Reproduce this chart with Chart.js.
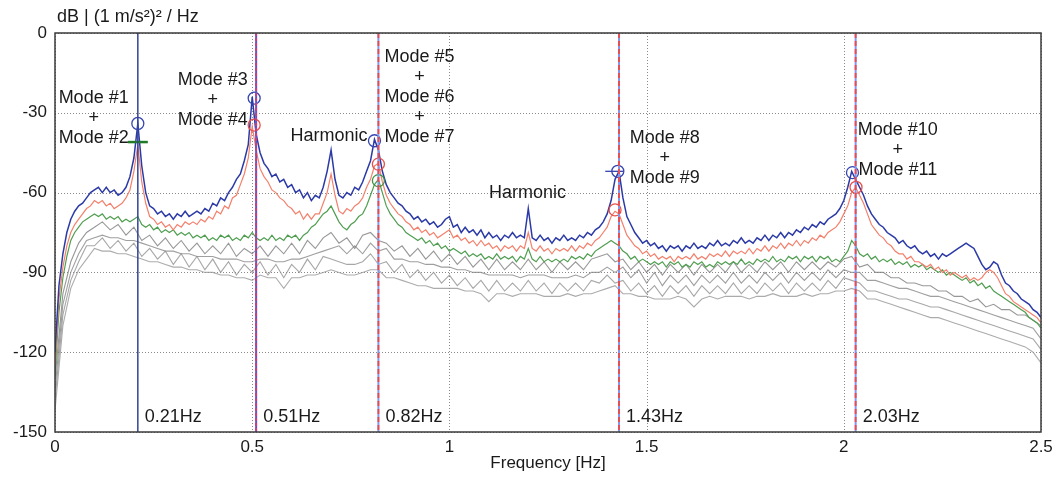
<!DOCTYPE html>
<html lang="en">
<head>
<meta charset="UTF-8">
<title>Acceleration PSD</title>
<script src="https://cdn.jsdelivr.net/npm/chart.js"></script>
<style>
  html, body { margin: 0; padding: 0; background: #fff; }
</style>
</head>
<body>
<canvas id="psdChart" width="1061" height="477"></canvas>
<script>
// frequency bins: 0.01 Hz for the three main records, 0.02 Hz for the background ones
const freq = [];
for (let i = 0; i <= 250; i++) freq.push(i / 100);
const freqCoarse = [];
for (let i = 0; i <= 125; i++) freqCoarse.push(i / 50);

// spectra in dB re (1 m/s²)²/Hz
const blueDb = [
  -120,-95,-83,-75,-70,-67,-65,-64,-62,-60,
  -59,-58,-60,-58,-60,-59,-61,-60,-58,-54,
  -47,-34,-50,-60,-65,-66,-68,-67,-69,-68,
  -70,-68,-69,-67,-69,-68,-67,-68,-66,-67,
  -64,-65,-62,-63,-60,-58,-55,-53,-48,-42,
  -24,-38,-45,-49,-51,-54,-53,-56,-55,-58,
  -57,-60,-59,-62,-60,-63,-61,-62,-58,-52,
  -44,-55,-61,-62,-60,-61,-58,-59,-56,-52,
  -48,-40,-44,-52,-57,-60,-62,-64,-65,-67,
  -68,-70,-69,-71,-70,-72,-71,-73,-72,-70,
  -69,-73,-72,-75,-73,-75,-74,-76,-74,-77,
  -75,-77,-76,-78,-76,-77,-75,-77,-76,-77,
  -66,-77,-78,-76,-78,-77,-79,-77,-78,-76,
  -78,-77,-78,-76,-77,-75,-76,-74,-73,-71,
  -68,-63,-55,-52,-62,-69,-72,-75,-77,-79,
  -78,-80,-79,-81,-80,-82,-80,-81,-80,-82,
  -80,-81,-79,-81,-80,-81,-79,-80,-78,-80,
  -79,-80,-78,-79,-77,-79,-78,-79,-77,-78,
  -76,-78,-76,-77,-75,-77,-75,-76,-74,-75,
  -73,-74,-72,-73,-71,-72,-70,-69,-68,-66,
  -63,-58,-52,-55,-58,-61,-65,-68,-70,-72,
  -73,-75,-76,-77,-79,-78,-80,-81,-80,-82,
  -83,-82,-84,-83,-85,-83,-84,-83,-82,-81,
  -80,-79,-80,-81,-84,-87,-89,-88,-86,-87,
  -91,-94,-95,-97,-98,-100,-101,-102,-104,-105,
  -107
];
const redDb = [
  -125,-100,-88,-80,-75,-72,-70,-68,-66,-65,
  -63,-64,-63,-65,-64,-66,-65,-64,-62,-59,
  -52,-42,-56,-64,-69,-70,-72,-71,-73,-72,
  -74,-72,-73,-71,-72,-71,-72,-70,-71,-69,
  -70,-67,-68,-65,-66,-62,-61,-57,-53,-47,
  -35,-44,-51,-54,-56,-59,-60,-62,-63,-65,
  -66,-68,-67,-70,-68,-70,-68,-68,-64,-60,
  -53,-61,-67,-68,-66,-67,-65,-64,-62,-58,
  -55,-50,-49,-56,-61,-64,-66,-68,-69,-71,
  -72,-74,-73,-75,-74,-76,-75,-77,-76,-75,
  -74,-77,-76,-78,-77,-79,-78,-80,-78,-80,
  -79,-81,-80,-82,-80,-81,-80,-82,-80,-81,
  -75,-81,-82,-80,-82,-81,-83,-81,-82,-81,
  -82,-80,-82,-80,-81,-79,-80,-78,-77,-75,
  -73,-69,-67,-68,-72,-76,-78,-80,-81,-83,
  -82,-84,-83,-85,-84,-85,-84,-86,-84,-85,
  -84,-85,-83,-85,-84,-85,-83,-84,-83,-84,
  -82,-84,-82,-83,-82,-83,-81,-83,-81,-82,
  -80,-82,-80,-81,-79,-81,-79,-80,-78,-80,
  -78,-79,-77,-78,-76,-77,-75,-74,-73,-71,
  -68,-65,-60,-58,-61,-64,-68,-72,-74,-76,
  -77,-79,-80,-82,-83,-83,-85,-84,-86,-86,
  -87,-88,-87,-89,-88,-90,-89,-91,-90,-91,
  -92,-91,-93,-92,-93,-92,-90,-89,-90,-92,
  -95,-98,-99,-101,-102,-103,-104,-105,-106,-107,
  -109
];
const greenDb = [
  -128,-105,-92,-84,-78,-75,-73,-71,-70,-69,
  -68,-69,-68,-70,-69,-70,-69,-71,-70,-71,
  -70,-69,-72,-73,-72,-74,-73,-75,-74,-75,
  -74,-76,-75,-76,-75,-77,-76,-77,-76,-78,
  -77,-78,-76,-77,-76,-78,-77,-78,-76,-77,
  -75,-77,-78,-77,-78,-76,-78,-77,-78,-76,
  -77,-76,-78,-76,-75,-73,-72,-70,-68,-67,
  -65,-68,-71,-73,-74,-72,-71,-69,-68,-65,
  -61,-57,-55,-60,-65,-68,-70,-72,-73,-75,
  -76,-77,-78,-77,-79,-78,-80,-79,-81,-80,
  -82,-81,-82,-83,-82,-84,-83,-84,-83,-85,
  -84,-85,-83,-85,-84,-85,-84,-86,-84,-85,
  -81,-85,-86,-84,-86,-85,-86,-85,-86,-85,
  -86,-84,-85,-84,-85,-83,-84,-82,-81,-80,
  -79,-78,-79,-80,-82,-83,-85,-84,-86,-85,
  -86,-87,-86,-87,-86,-88,-86,-87,-86,-88,
  -87,-88,-86,-87,-86,-88,-87,-88,-86,-87,
  -86,-87,-86,-87,-85,-87,-86,-87,-85,-86,
  -85,-86,-84,-86,-85,-86,-84,-85,-84,-86,
  -84,-85,-84,-86,-84,-85,-84,-86,-85,-86,
  -84,-82,-78,-80,-83,-84,-83,-85,-84,-86,
  -85,-86,-85,-87,-86,-87,-86,-88,-87,-88,
  -87,-89,-88,-89,-90,-89,-91,-90,-91,-92,
  -93,-92,-94,-93,-95,-94,-96,-95,-97,-98,
  -99,-100,-101,-102,-103,-104,-105,-107,-108,-109,
  -111
];
const gray1Db = [
  -130,-98,-86,-79,-75,-73,-71,-74,-72,-76,
  -73,-78,-76,-80,-77,-81,-78,-82,-79,-83,
  -80,-83,-79,-84,-81,-83,-80,-84,-80,-83,
  -79,-83,-78,-81,-77,-75,-79,-77,-81,-76,
  -75,-78,-79,-82,-80,-84,-81,-85,-82,-86,
  -83,-87,-84,-88,-85,-89,-85,-89,-86,-89,
  -85,-89,-86,-90,-86,-89,-86,-89,-85,-84,
  -83,-86,-85,-89,-86,-90,-87,-91,-87,-90,
  -87,-91,-87,-90,-87,-90,-86,-90,-87,-90,
  -86,-89,-86,-90,-86,-89,-86,-89,-86,-88,
  -85,-84,-88,-87,-90,-90,-92,-92,-94,-94,
  -95,-95,-97,-97,-99,-99,-101,-100,-103,-102,
  -104,-104,-106,-106,-108,-110
];
const gray2Db = [
  -134,-102,-90,-83,-78,-77,-76,-77,-77,-78,
  -78,-79,-80,-81,-82,-82,-83,-83,-84,-84,
  -84,-85,-85,-85,-86,-86,-85,-85,-86,-86,
  -85,-85,-84,-83,-82,-81,-80,-83,-80,-83,
  -79,-82,-81,-85,-85,-86,-86,-87,-87,-88,
  -88,-89,-89,-90,-90,-91,-91,-91,-91,-92,
  -91,-91,-91,-92,-92,-92,-91,-92,-90,-90,
  -88,-90,-88,-92,-89,-94,-90,-95,-91,-94,
  -91,-95,-91,-94,-91,-94,-90,-94,-91,-94,
  -90,-93,-90,-94,-90,-93,-90,-93,-89,-92,
  -89,-90,-90,-93,-93,-94,-95,-96,-96,-97,
  -98,-99,-99,-100,-101,-102,-103,-104,-105,-106,
  -107,-108,-109,-110,-111,-115
];
const gray3Db = [
  -138,-106,-93,-86,-80,-80,-77,-81,-78,-82,
  -79,-84,-81,-85,-82,-87,-83,-88,-84,-89,
  -85,-90,-86,-91,-87,-90,-86,-91,-87,-92,
  -87,-90,-85,-89,-84,-85,-86,-87,-87,-86,
  -83,-87,-86,-90,-87,-92,-89,-93,-90,-94,
  -91,-95,-92,-96,-93,-97,-93,-97,-94,-97,
  -93,-97,-94,-98,-94,-97,-94,-97,-93,-94,
  -91,-94,-93,-97,-94,-98,-95,-99,-95,-98,
  -95,-99,-95,-98,-95,-98,-94,-98,-95,-98,
  -94,-97,-94,-98,-94,-97,-94,-97,-93,-96,
  -92,-93,-94,-97,-97,-98,-99,-100,-100,-101,
  -102,-103,-103,-104,-105,-106,-107,-108,-109,-110,
  -111,-112,-113,-114,-115,-119
];
const gray4Db = [
  -142,-110,-96,-89,-85,-81,-82,-82,-83,-83,
  -84,-85,-86,-86,-87,-88,-88,-89,-89,-90,
  -90,-91,-91,-92,-92,-93,-91,-92,-92,-96,
  -92,-92,-91,-91,-90,-89,-90,-91,-91,-90,
  -89,-89,-92,-92,-93,-94,-95,-95,-96,-96,
  -96,-96,-97,-97,-98,-101,-98,-98,-99,-98,
  -98,-98,-99,-99,-99,-98,-99,-98,-98,-97,
  -96,-95,-98,-98,-99,-99,-100,-100,-100,-99,
  -100,-103,-100,-99,-100,-99,-99,-99,-100,-99,
  -99,-98,-99,-99,-99,-98,-99,-98,-98,-97,
  -97,-96,-97,-100,-100,-101,-102,-103,-104,-105,
  -106,-107,-107,-108,-109,-110,-111,-112,-113,-114,
  -115,-116,-117,-118,-120,-124
];

// identified modes
const modeFreqs = [0.21, 0.51, 0.82, 1.43, 2.03];
const modeLabels = ['0.21Hz', '0.51Hz', '0.82Hz', '1.43Hz', '2.03Hz'];

// picked peaks
const bluePeakF = [0.21, 0.505, 0.81, 1.427, 2.022];
const bluePeakDb = [-34, -24.5, -40.5, -52, -52.5];
const redPeakF = [0.505, 0.82, 1.42, 2.031];
const redPeakDb = [-34.6, -49.3, -66.5, -58];
const greenPeakF = [0.82];
const greenPeakDb = [-55.5];
const greenTickF = [0.21];
const greenTickDb = [-41];
const blueTickF = [1.418];
const blueTickDb = [-52];

const notes = [
  { f: 0.098, db: -24.4, lines: ['Mode #1', '+', 'Mode #2'] },
  { f: 0.400, db: -17.7, lines: ['Mode #3', '+', 'Mode #4'] },
  { f: 0.695, db: -38.7, lines: ['Harmonic'] },
  { f: 0.924, db: -9.1, lines: ['Mode #5', '+', 'Mode #6', '+', 'Mode #7'] },
  { f: 1.198, db: -60.2, lines: ['Harmonic'] },
  { f: 1.546, db: -39.6, lines: ['Mode #8', '+', 'Mode #9'] },
  { f: 2.137, db: -36.5, lines: ['Mode #10', '+', 'Mode #11'] }
];

const FONT = '"Liberation Sans", Arial, sans-serif';

const toPoints = (fs, vals) => vals.map((v, i) => ({ x: fs[i], y: v }));

function curve(fs, vals, color, width) {
  return {
    data: toPoints(fs, vals), borderColor: color, borderWidth: width,
    pointRadius: 0, fill: false, tension: 0
  };
}

function peaks(fs, vals, color, style, radius, width) {
  return {
    data: toPoints(fs, vals), showLine: false, pointStyle: style,
    pointRadius: radius, pointBorderColor: color, pointBackgroundColor: 'rgba(0,0,0,0)',
    pointBorderWidth: width, borderColor: color
  };
}

const overlay = {
  id: 'overlay',
  beforeDatasetsDraw(chart) {
    const { ctx, chartArea: a, scales: { x, y } } = chart;
    ctx.save();
    ctx.strokeStyle = '#8a8a8a';
    ctx.lineWidth = 1;
    ctx.setLineDash([1, 2]);
    x.ticks.forEach(t => {
      const px = Math.round(x.getPixelForValue(t.value)) + 0.5;
      ctx.beginPath(); ctx.moveTo(px, a.top); ctx.lineTo(px, a.bottom); ctx.stroke();
    });
    y.ticks.forEach(t => {
      const py = Math.round(y.getPixelForValue(t.value)) + 0.5;
      ctx.beginPath(); ctx.moveTo(a.left, py); ctx.lineTo(a.right, py); ctx.stroke();
    });
    ctx.restore();
  },
  afterDatasetsDraw(chart) {
    const { ctx, chartArea: a, scales: { x, y } } = chart;
    ctx.save();
    modeFreqs.forEach((f, i) => {
      const px = x.getPixelForValue(f);
      ctx.setLineDash([]);
      ctx.lineWidth = i === 0 ? 1.5 : 2;
      ctx.strokeStyle = i === 0 ? '#33449a' : (i === 1 ? '#6a50c0' : '#8595e8');
      ctx.beginPath(); ctx.moveTo(px, a.top); ctx.lineTo(px, a.bottom); ctx.stroke();
      if (i > 0) {
        ctx.strokeStyle = i === 1 ? '#c8407a' : '#f04848';
        ctx.lineWidth = 1.8;
        ctx.setLineDash(i === 1 ? [3, 2] : [5, 3]);
        ctx.beginPath(); ctx.moveTo(px, a.top); ctx.lineTo(px, a.bottom); ctx.stroke();
      }
      ctx.setLineDash([]);
      ctx.fillStyle = '#1a1a1a';
      ctx.font = '18px ' + FONT;
      ctx.textAlign = 'left';
      ctx.textBaseline = 'middle';
      ctx.fillText(modeLabels[i], px + 7, y.getPixelForValue(-144.5));
    });
    ctx.restore();
  },
  afterDraw(chart) {
    const { ctx, chartArea: a, scales: { x, y } } = chart;
    ctx.save();
    ctx.strokeStyle = '#3a3a3a';
    ctx.lineWidth = 1.5;
    ctx.strokeRect(a.left, a.top, a.right - a.left, a.bottom - a.top);

    ctx.fillStyle = '#1a1a1a';
    ctx.font = '18px ' + FONT;
    ctx.textBaseline = 'middle';
    ctx.textAlign = 'left';
    ctx.fillText('dB | (1 m/s²)² / Hz', 57, 17);

    ctx.textAlign = 'center';
    notes.forEach(n => {
      const px = x.getPixelForValue(n.f);
      const py = y.getPixelForValue(n.db);
      n.lines.forEach((t, k) => ctx.fillText(t, px, py + k * 20));
    });
    ctx.restore();
  }
};

new Chart(document.getElementById('psdChart'), {
  type: 'line',
  data: {
    datasets: [
      peaks(bluePeakF, bluePeakDb, '#3544b0', 'circle', 6, 1.3),
      peaks(redPeakF, redPeakDb, '#e8504a', 'circle', 6, 1.3),
      peaks(greenPeakF, greenPeakDb, '#3a9440', 'circle', 6, 1.3),
      peaks(greenTickF, greenTickDb, '#1f7a28', 'line', 10, 2.5),
      peaks(blueTickF, blueTickDb, '#3544b0', 'line', 9, 1.3),
      curve(freq, blueDb, '#2b3aa6', 1.5),
      curve(freq, redDb, '#f3806c', 1.2),
      curve(freq, greenDb, '#4f9e50', 1.2),
      curve(freqCoarse, gray1Db, 'rgba(125,125,125,0.8)', 1.1),
      curve(freqCoarse, gray2Db, 'rgba(135,135,135,0.8)', 1.1),
      curve(freqCoarse, gray3Db, 'rgba(145,145,145,0.8)', 1.1),
      curve(freqCoarse, gray4Db, 'rgba(150,150,150,0.8)', 1.1)
    ]
  },
  options: {
    responsive: false,
    animation: false,
    layout: { padding: { top: 33, right: 20, left: 0, bottom: 0 } },
    plugins: { legend: { display: false }, tooltip: { enabled: false } },
    scales: {
      x: {
        type: 'linear', min: 0, max: 2.5,
        ticks: {
          stepSize: 0.5, padding: 5, color: '#1a1a1a', font: { family: FONT, size: 17 },
          callback: v => String(Math.round(v * 10) / 10)
        },
        grid: { display: false, drawTicks: false },
        border: { display: false },
        title: { display: true, text: 'Frequency [Hz]', color: '#1a1a1a', font: { family: FONT, size: 17 }, padding: { top: 0, bottom: 3 } },
        afterFit: s => { s.height = 45; }
      },
      y: {
        min: -150, max: 0,
        ticks: { stepSize: 30, padding: 8, color: '#1a1a1a', font: { family: FONT, size: 17 } },
        grid: { display: false, drawTicks: false },
        border: { display: false },
        afterFit: s => { s.width = 55; }
      }
    }
  },
  plugins: [overlay]
});
</script>
</body>
</html>
